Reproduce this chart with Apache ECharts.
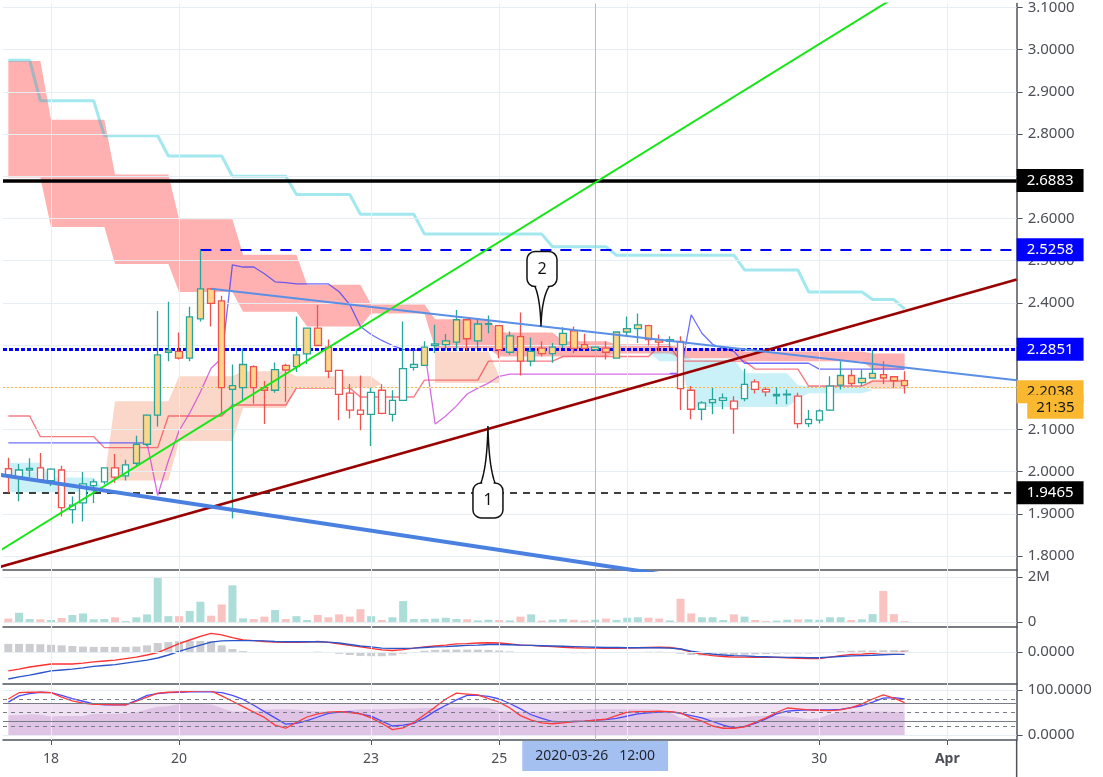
<!DOCTYPE html>
<html>
<head>
<meta charset="utf-8">
<script src="https://cdn.jsdelivr.net/npm/echarts@6.0.0/dist/echarts.min.js"></script>
<style>
html,body{margin:0;padding:0;background:#ffffff;}
#chart{width:1103px;height:777px;}
</style>
</head>
<body>
<div id="chart"></div>
<script>
// ================= DATA =================
const firstBarTime = '2020-03-17T08:00:00Z';
const barHours = 4;
const slotCount = 95;
const categories = [];
for (let i = 0; i < slotCount; i++) {
  const d = new Date(Date.parse(firstBarTime) + i * barHours * 3600000);
  categories.push(d.toISOString().slice(0, 16).replace('T', ' '));
}
const tickSlots = [4, 16, 34, 46, 58, 76, 88];
const tickLabels = ['18', '20', '23', '25', '', '30', 'Apr'];
const axisTickSlots = [4, 16, 34, 46, 55, 76, 88];
const crosshairSlot = 55;
const crosshairText = '2020-03-26   12:00';
const countdownText = '21:35';

const priceTicks = [1.8, 1.9, 2.0, 2.1, 2.2, 2.3, 2.4, 2.5, 2.6, 2.7, 2.8, 2.9, 3.0, 3.1];

const opens = [2.007,1.988,2.004,2.009,1.979,2.004,1.910,1.926,1.967,1.976,
2.009,1.990,2.020,2.065,2.134,2.283,2.285,2.269,2.362,2.433,
2.405,2.195,2.199,2.249,2.199,2.193,2.252,2.249,2.279,2.340,
2.295,2.240,2.186,2.146,2.136,2.193,2.136,2.169,2.247,2.252,
2.299,2.301,2.307,2.360,2.310,2.349,2.346,2.283,2.320,2.262,
2.293,2.280,2.301,2.334,2.301,2.289,2.293,2.269,2.331,2.339,
2.346,2.313,2.309,2.309,2.193,2.148,2.164,2.169,2.167,2.173,
2.213,2.195,2.180,2.182,2.179,2.114,2.122,2.146,2.205,2.228,
2.211,2.222,2.230,2.225,2.216];
const closes = [1.992,2.004,2.008,1.981,2.006,1.915,1.921,1.971,1.976,2.009,
1.987,2.016,2.065,2.134,2.277,2.288,2.269,2.367,2.433,2.399,
2.199,2.204,2.254,2.199,2.193,2.242,2.241,2.277,2.340,2.299,
2.238,2.183,2.146,2.136,2.188,2.138,2.169,2.244,2.254,2.295,
2.303,2.310,2.360,2.315,2.350,2.351,2.289,2.322,2.262,2.285,
2.280,2.295,2.328,2.292,2.292,2.295,2.283,2.331,2.339,2.348,
2.313,2.307,2.313,2.197,2.148,2.163,2.171,2.175,2.149,2.207,
2.195,2.189,2.183,2.184,2.114,2.124,2.144,2.203,2.228,2.209,
2.221,2.233,2.222,2.216,2.2038];
const lows = [1.950,1.930,1.987,1.978,1.966,1.894,1.877,1.882,1.926,1.970,
1.974,1.979,2.014,2.060,2.107,2.262,2.266,2.262,2.356,2.344,
2.136,1.889,2.169,2.161,2.113,2.187,2.166,2.236,2.255,2.297,
2.222,2.122,2.126,2.098,2.061,2.136,2.119,2.168,2.240,2.251,
2.281,2.287,2.287,2.287,2.293,2.328,2.269,2.277,2.228,2.250,
2.273,2.258,2.293,2.281,2.291,2.287,2.266,2.269,2.320,2.305,
2.299,2.285,2.293,2.146,2.124,2.122,2.136,2.148,2.090,2.167,
2.185,2.178,2.160,2.160,2.103,2.106,2.114,2.144,2.195,2.203,
2.203,2.222,2.208,2.199,2.185];
const highs = [2.033,2.018,2.032,2.044,2.008,2.014,1.941,1.999,1.982,2.010,
2.042,2.028,2.085,2.136,2.381,2.403,2.330,2.391,2.5258,2.435,
2.417,2.254,2.292,2.252,2.215,2.259,2.256,2.368,2.341,2.395,
2.313,2.241,2.208,2.228,2.199,2.207,2.193,2.356,2.287,2.309,
2.348,2.326,2.383,2.361,2.360,2.370,2.347,2.332,2.377,2.318,
2.309,2.305,2.342,2.344,2.327,2.296,2.309,2.332,2.368,2.375,
2.348,2.325,2.321,2.321,2.203,2.167,2.199,2.185,2.179,2.244,
2.219,2.200,2.200,2.195,2.187,2.146,2.148,2.226,2.262,2.242,
2.242,2.289,2.262,2.226,2.238];
const bodyFilled = [0,0,0,0,0,0,0,0,0,0,0,0,
1,1,1,1,1,1,1,1,1,1,1,1,1,1,1,1,1,1,1,
0,0,0,0,0,0,0,0,
1,0,
1,1,1,1,1,1,1,1,1,1,1,1,1,1,1,1,1,1,1,1,1,1,
0,0,0,0,0,0,0,0,0,0,0,0,0,0,0,
1,1,1,1,1,1,1];
const volumesM = [0.15,0.41,0.13,0.12,0.09,0.18,0.31,0.38,0.12,0.13,
0.21,0.04,0.21,0.34,1.97,0.26,0.26,0.49,0.90,0.28,
0.78,1.63,0.16,0.13,0.24,0.53,0.13,0.26,0.09,0.31,
0.21,0.34,0.24,0.57,0.26,0.09,0.21,0.93,0.13,0.13,
0.15,0.19,0.13,0.12,0.07,0.10,0.09,0.07,0.24,0.34,
0.06,0.10,0.13,0.10,0.07,0.10,0.15,0.09,0.19,0.21,
0.19,0.15,0.07,1.03,0.38,0.21,0.21,0.09,0.34,0.24,
0.09,0.04,0.06,0.10,0.12,0.12,0.10,0.21,0.21,0.09,
0.12,0.35,1.38,0.35,0.04];

// Ichimoku-style overlays (price per bar slot, null = not drawn)
const cyanBaseLine = [2.975,2.975,2.975,
2.879,2.879,2.879,2.879,2.879,2.879,
2.796,2.796,2.796,2.796,2.796,2.796,
2.748,2.748,2.748,2.748,2.748,2.748,
2.700,2.700,2.700,2.700,2.700,2.700,
2.657,2.657,2.657,2.657,2.657,2.657,
2.610,2.610,2.610,2.610,2.610,2.610,
2.563,2.563,2.563,2.563,2.563,2.563,2.563,2.563,2.563,2.563,2.563,2.563,
2.533,2.533,2.533,2.533,2.533,2.533,
2.513,2.513,2.513,2.513,2.513,2.513,2.513,2.513,2.513,2.513,2.513,2.513,
2.478,2.478,2.478,2.478,2.478,2.478,
2.426,2.426,2.426,2.426,2.426,2.426,
2.408,2.408,2.408,
2.386];
const tenkanLine = [2.132,2.132,2.132,
2.083,2.083,2.083,2.083,2.083,2.083,
2.057,2.057,2.057,2.057,2.057,2.057,
2.132,2.132,2.132,2.132,2.132,2.132,
2.158,2.158,2.158,2.158,2.158,2.158,
2.198,2.198,2.198,2.198,2.198,2.198,
2.177,2.177,2.177,2.177,2.177,2.177,
2.217,2.217,2.217,2.217,2.217,2.217,
2.262,2.262,2.262,2.262,2.262,2.262,2.262,
2.273,2.273,2.273,2.273,2.273,2.273,2.273,2.273,2.273,
2.297,2.297,
2.262,2.262,2.262,2.262,2.262,2.262,2.262,
2.243,2.243,2.243,2.243,2.243,
2.203,2.203,2.203,2.203,2.203,2.203,
2.2145,2.2145,2.2145,2.2145];
const kijunLine = [2.0685,2.0685,2.0685,2.0685,2.0685,2.0685,2.0685,2.0685,2.0685,2.0685,2.0685,2.0685,2.0685,2.0685,
null,null,null,null,null,null,
2.269,2.490,2.485,2.485,2.469,2.450,2.448,2.445,2.445,2.445,
2.445,2.4265,2.396,2.344,2.325,2.311,2.299,2.290,2.2875,2.290,
null,null,null,null,null,null,null,null,null,null,null,
null,null,null,null,null,null,null,null,null,null,null,
2.233,2.233,2.372,2.328,2.302,2.292,2.285,
2.257,2.257,2.257,2.257,2.257,2.257,2.257,
2.243,2.243,2.243,2.243,2.243,2.243,2.243,2.243,2.243];
const laggingLine = [null,null,null,null,null,null,null,null,null,null,null,null,null,
2.0685,1.9437,2.026,2.097,2.139,2.189,2.245,2.269,
null,null,null,null,null,null,null,null,null,
null,null,null,null,null,null,null,null,null,
2.290,2.113,2.132,2.156,2.184,2.198,2.210,2.226,
2.231,2.231,2.231,2.231,2.231,2.231,2.231,2.231,2.231,2.231,2.231,2.231,2.231,2.231,2.231,2.231,2.231,
null,null,null,null,null,null,null,null,null,null,null,
null,null,null,null,null,null,null,null,null,null];

const redCloudTop = [2.973,2.973,2.973,2.973,
2.834,2.834,2.834,2.834,2.834,2.834,
2.704,2.704,2.704,2.704,2.704,2.704,
2.598,2.598,2.598,2.598,2.598,2.598,
2.514,2.514,2.514,2.514,2.514,2.514,
2.443,2.443,2.443,2.443,2.443,2.443,
2.396,2.396,2.396,2.396,2.396,2.396,
2.361,2.361,2.361,2.361,2.361,2.361,
2.330,2.330,2.330,2.330,2.330,2.330,
2.309,2.309,2.309,2.309,2.309,
2.302,2.302,2.302,2.302,2.302,2.302,
2.292,2.292,2.292,2.292,2.292,2.292,
2.285,2.285,2.285,2.285,2.285,2.285,2.285,2.285,2.285,2.285,2.285,2.285,
2.280,2.280,2.280,2.280];
const redCloudBottom = [2.697,2.697,2.697,2.697,
2.580,2.580,2.580,2.580,2.580,2.580,
2.492,2.492,2.492,2.492,2.492,2.492,
2.426,2.426,2.426,2.426,2.426,2.426,
2.379,2.379,2.379,2.379,2.379,2.379,
2.344,2.344,2.344,2.344,2.344,2.344,
2.375,2.375,2.375,2.375,2.375,2.375,
2.292,2.292,2.292,2.292,2.292,2.292,
2.273,2.273,2.273,2.273,2.273,2.273,
2.273,2.273,2.273,2.273,2.273,
2.280,2.280,2.280,2.280,2.280,2.280,
2.269,2.269,2.269,2.269,2.269,2.269,
2.262,2.262,2.262,2.262,2.262,2.262,2.262,2.262,2.262,2.262,2.262,2.262,
2.243,2.243,2.243,2.243];
const peachCloudTop = [null,null,null,null,null,null,null,null,null,
1.979,2.167,2.167,2.167,2.167,2.167,2.167,
2.226,2.226,2.226,2.226,2.226,2.226,
2.238,2.238,2.238,2.238,2.238,
2.226,2.226,2.226,2.226,2.226,2.226,2.226,2.226,
2.207,
null,null,null,null,
2.285,2.285,2.285,2.285,2.285,2.285,2.226,
null,null,null,null,null,null,null,null,null,null,null,
null,null,null,null,null,null,null,null,null,null,null,
null,null,null,null,null,null,null,null,null,null,null,
2.203,2.219,2.219,2.219,2.219];
const peachCloudBottom = [null,null,null,null,null,null,null,null,null,
1.979,1.979,1.979,1.979,1.979,1.979,1.979,
2.073,2.073,2.073,2.073,2.073,2.073,
2.151,2.151,2.151,2.151,2.151,
2.198,2.198,2.198,2.198,2.198,2.198,2.198,2.198,
2.207,
null,null,null,null,
2.210,2.210,2.210,2.210,2.210,2.210,2.210,
null,null,null,null,null,null,null,null,null,null,null,
null,null,null,null,null,null,null,null,null,null,null,
null,null,null,null,null,null,null,null,null,null,null,
2.203,2.196,2.196,2.196,2.196];
const cyanCloudTop = [2.021,2.021,2.021,2.021,1.986,1.986,1.986,1.986,1.986,1.955,
null,null,null,null,null,null,null,null,null,null,
null,null,null,null,null,null,null,null,null,null,
null,null,null,null,null,null,null,null,null,null,
null,null,null,null,null,null,null,null,null,null,
null,null,null,null,null,null,null,null,null,null,
2.285,2.285,2.285,2.285,2.266,2.266,2.266,2.266,2.266,
2.233,2.233,2.233,2.233,2.233,2.205,
2.203,2.203,2.203,2.203,2.203,2.203,2.193,
null,null,null];
const cyanCloudBottom = [1.951,1.951,1.951,1.951,1.951,1.951,1.951,1.951,1.951,1.955,
null,null,null,null,null,null,null,null,null,null,
null,null,null,null,null,null,null,null,null,null,
null,null,null,null,null,null,null,null,null,null,
null,null,null,null,null,null,null,null,null,null,
null,null,null,null,null,null,null,null,null,null,
2.285,2.262,2.262,2.262,2.153,2.153,2.153,2.153,2.153,
2.153,2.153,2.153,2.153,2.153,2.172,
2.186,2.186,2.186,2.186,2.186,2.186,2.193,
null,null,null];

// Price levels and drawn trend lines ([bar slot, price])
const levelBlack = 2.6883, levelBlueDash = 2.5258, levelBlueDash2Start = 18;
const levelBlueDot = 2.2851, levelLast = 2.2038, levelBlackDash = 1.9465;
const trendGreen = [[-1, 1.8094], [83, 3.1229]];
const trendDarkRed = [[-1, 1.7727], [94.5, 2.4554]];
const trendBlueLower = [[-1, 1.9931], [62, 1.7538]];
const trendBlueUpper = [[19, 2.4333], [94.5, 2.2169]];
const calloutTips = [[49.92, 2.344, 1], [44.95, 2.1085, -1]];
const calloutTexts = ['2', '1'];

// MACD
const macdLine = [-0.063,-0.057,-0.050,-0.045,-0.040,-0.040,-0.040,-0.037,-0.033,-0.030,
-0.027,-0.022,-0.017,-0.010,-0.002,0.013,0.028,0.040,0.052,0.062,
0.057,0.048,0.040,0.038,0.035,0.033,0.032,0.032,0.033,0.035,
0.032,0.027,0.022,0.017,0.012,0.007,0.005,0.008,0.013,0.017,
0.020,0.023,0.027,0.028,0.030,0.031,0.030,0.027,0.023,0.022,
0.020,0.018,0.016,0.014,0.013,0.013,0.012,0.012,0.013,0.014,
0.015,0.016,0.015,0.010,0.000,-0.007,-0.012,-0.015,-0.017,-0.017,
-0.018,-0.018,-0.018,-0.019,-0.021,-0.022,-0.022,-0.017,-0.012,-0.008,
-0.007,-0.004,-0.002,-0.002,-0.001];
const macdSignal = [-0.090,-0.083,-0.077,-0.070,-0.063,-0.060,-0.057,-0.053,-0.048,-0.045,
-0.042,-0.037,-0.032,-0.027,-0.020,-0.010,0.002,0.013,0.023,0.033,
0.037,0.038,0.038,0.038,0.037,0.035,0.034,0.034,0.034,0.034,
0.033,0.030,0.025,0.020,0.017,0.013,0.012,0.012,0.013,0.015,
0.017,0.018,0.020,0.022,0.023,0.025,0.025,0.024,0.023,0.022,
0.021,0.020,0.019,0.018,0.017,0.016,0.015,0.015,0.014,0.014,
0.014,0.014,0.013,0.010,0.003,-0.002,-0.007,-0.010,-0.012,-0.013,
-0.015,-0.016,-0.017,-0.018,-0.018,-0.019,-0.019,-0.017,-0.015,-0.013,
-0.012,-0.011,-0.009,-0.008,-0.008];
const macdHist = [0.027,0.027,0.027,0.026,0.024,0.022,0.020,0.018,0.017,0.017,
0.017,0.017,0.018,0.022,0.030,0.033,0.036,0.037,0.037,0.036,
0.022,0.010,0.003,-0.002,-0.002,-0.002,-0.002,-0.002,0.000,0.001,
-0.002,-0.006,-0.010,-0.013,-0.014,-0.014,-0.012,-0.006,-0.002,0.004,
0.007,0.008,0.008,0.008,0.008,0.007,0.005,0.002,0.000,-0.001,
-0.002,-0.003,-0.003,-0.004,-0.004,-0.003,-0.003,-0.003,-0.001,0.000,
0.001,0.001,-0.002,-0.006,-0.010,-0.012,-0.012,-0.011,-0.010,-0.009,
-0.008,-0.007,-0.006,-0.005,-0.005,-0.005,-0.004,0.000,0.003,0.004,
0.005,0.005,0.006,0.006,0.006];

// Stochastic RSI + RSI
const stochK = [73,87,92,95,94,88,81,75,69,67,
67,67,77,88,92,94,95,96,96,96,
94,88,79,66,52,38,24,26,32,40,
48,51,52,47,42,31,20,22,26,38,
53,66,78,88,88,86,80,70,58,45,
37,30,29,30,31,33,34,37,42,47,
49,51,52,48,43,38,30,22,16,19,
26,36,47,53,55,56,56,56,57,61,
65,73,82,83,80];
const stochD = [80,94,95,95,94,84,76,71,68,68,
67,67,75,84,93,95,96,97,98,98,
87,75,63,51,39,22,15,28,40,47,
51,52,50,47,38,26,12,16,28,45,
62,80,93,91,89,81,73,60,43,33,
27,25,27,30,31,33,35,43,51,52,
52,53,52,49,38,31,20,15,15,18,
28,38,50,60,58,56,55,54,56,61,
69,80,89,82,72];
const rsiValues = [44,44,46,45,41,42,42,42,47,47,
47,48,50,57,63,64,69,69,69,68,
60,52,52,52,56,57,57,56,54,52,
52,52,55,57,57,57,58,59,59,60,
60,61,61,61,61,60,53,52,52,52,
52,53,54,56,56,57,57,57,57,57,
57,56,50,37,38,39,39,39,39,40,
42,42,42,41,39,35,38,46,51,52,
52,52,52,51,50];
const stochDashedLevels = [80, 50, 20];
const stochSolidLevels = [70, 30];
const stochBand = [0, 70];

// ================= STYLE =================
const FONT = 'Noto Sans';
const C_UP = '#26a69a', C_DN = '#ef5350', FILL = '#fdd68a';
const GRID_C = '#e6edf3', CROSS_C = '#a9bdea', AXIS_C = '#50535e', LABEL_C = '#4d4f57';
const GL = 3, GW = 1013.65;

const chart = echarts.init(document.getElementById('chart'));

function catAxis(gi, extra) {
  return Object.assign({
    type: 'category', gridIndex: gi, data: categories, boundaryGap: true,
    axisLine: {show: true, onZero: false, lineStyle: {color: AXIS_C, width: 1.5}},
    axisTick: {show: false}, axisLabel: {show: false}, splitLine: {show: false}
  }, extra || {});
}
function valAxis(gi, min, max, ticks, fmt) {
  return {
    type: 'value', gridIndex: gi, position: 'right', min: min, max: max,
    axisLine: {show: true, onZero: false, lineStyle: {color: AXIS_C, width: 1.5}},
    axisTick: {show: true, length: 6, customValues: ticks, lineStyle: {color: AXIS_C}},
    axisLabel: {show: true, customValues: ticks, formatter: fmt, margin: 11, color: LABEL_C, fontSize: 15, fontFamily: FONT},
    splitLine: {show: false}
  };
}
function paneGrid(xi, yi, yVals, extraData, extraOpts) {
  const data = yVals.map(v => ({yAxis: v}))
    .concat(tickSlots.map(s => ({xAxis: s})))
    .concat([{xAxis: crosshairSlot, lineStyle: {color: CROSS_C, width: 1, type: 'solid'}}])
    .concat(extraData || []);
  return Object.assign({
    type: 'line', xAxisIndex: xi, yAxisIndex: yi, data: [], z: 0, silent: true,
    markLine: {silent: true, symbol: ['none', 'none'], animation: false, label: {show: false},
      lineStyle: {color: GRID_C, width: 1, type: 'solid'}, data: data}
  }, extraOpts || {});
}
function bandSeries(tops, bots, color, z) {
  return {
    type: 'custom', xAxisIndex: 0, yAxisIndex: 0, z: z, silent: true, clip: true, data: [[0, 0]],
    renderItem: function (params, api) {
      const children = [];
      let run = [];
      const flush = function () {
        if (run.length > 1) {
          const pts = [];
          run.forEach(i => pts.push(api.coord([i, tops[i]])));
          for (let j = run.length - 1; j >= 0; j--) pts.push(api.coord([run[j], bots[run[j]]]));
          children.push({type: 'polygon', shape: {points: pts}, style: {fill: color}});
        }
        run = [];
      };
      for (let i = 0; i < tops.length; i++) {
        if (tops[i] == null || bots[i] == null) flush(); else run.push(i);
      }
      flush();
      return {type: 'group', children: children};
    }
  };
}
function lineSeries(xi, yi, data, color, width, z, extra) {
  return Object.assign({
    type: 'line', xAxisIndex: xi, yAxisIndex: yi, data: data, showSymbol: false, symbol: 'none',
    connectNulls: false, silent: true, z: z, lineStyle: {color: color, width: width}
  }, extra || {});
}
function boxLabel(text, bg, fg) {
  return {show: true, position: 'end', distance: 0, formatter: text, backgroundColor: bg, color: fg,
    fontSize: 15, lineHeight: 15, padding: [4, 10, 4, 10], fontFamily: FONT};
}

const candleData = opens.map((o, i) => ({
  value: [o, closes[i], lows[i], highs[i]],
  itemStyle: {color: bodyFilled[i] ? FILL : '#ffffff', color0: bodyFilled[i] ? FILL : '#ffffff'}
}));
const volumeData = volumesM.map((v, i) => ({
  value: v, itemStyle: {color: closes[i] >= opens[i] ? 'rgba(38,166,154,0.38)' : 'rgba(239,83,80,0.35)'}
}));

const option = {
  animation: false,
  backgroundColor: '#ffffff',
  textStyle: {fontFamily: FONT},
  graphic: [{
    type: 'line', silent: true, z: 100,
    shape: {x1: GL + GW, y1: 740, x2: GL + GW, y2: 777},
    style: {stroke: AXIS_C, lineWidth: 1.5}
  }],
  grid: [
    {left: GL, width: GW, top: 0, height: 570},
    {left: GL, width: GW, top: 570, height: 57},
    {left: GL, width: GW, top: 627, height: 57},
    {left: GL, width: GW, top: 684, height: 56}
  ],
  xAxis: [
    catAxis(0),
    {type: 'value', gridIndex: 0, min: -0.5, max: 94.5, show: false, axisLine: {show: false, onZero: false}},
    catAxis(1),
    catAxis(2),
    catAxis(3, {
      axisTick: {show: true, alignWithLabel: true, length: 5, lineStyle: {color: AXIS_C},
        interval: (i) => axisTickSlots.indexOf(i) >= 0},
      axisLabel: {show: true, interval: (i) => tickSlots.indexOf(i) >= 0, margin: 12, color: LABEL_C,
        fontSize: 14, fontFamily: FONT,
        formatter: (v, i) => {
          const t = tickLabels[tickSlots.indexOf(i)] || '';
          return t === 'Apr' ? '{b|Apr}' : t;
        },
        rich: {b: {fontWeight: 'bold', fontSize: 14, color: LABEL_C, fontFamily: FONT}}}
    })
  ],
  yAxis: [
    valAxis(0, 1.76703, 3.10942, priceTicks, v => v.toFixed(4)),
    valAxis(1, -0.222, 2.311, [0, 2], v => (v === 0 ? '0' : v + 'M')),
    valAxis(2, -0.1067, 0.0833, [0], v => v.toFixed(4)),
    valAxis(3, -11.11, 113.33, [0, 100], v => v.toFixed(4))
  ],
  series: [
    // ---- main pane ----
    paneGrid(0, 0, priceTicks),
    bandSeries(redCloudTop, redCloudBottom, 'rgba(255,82,82,0.45)', 1),
    bandSeries(peachCloudTop, peachCloudBottom, 'rgba(240,140,100,0.35)', 1),
    bandSeries(cyanCloudTop, cyanCloudBottom, 'rgba(80,210,230,0.3)', 1),
    lineSeries(0, 0, cyanBaseLine, 'rgba(0,188,212,0.36)', 3, 2),
    lineSeries(0, 0, tenkanLine, 'rgba(242,54,69,0.65)', 1.4, 2),
    lineSeries(0, 0, kijunLine, 'rgba(50,50,255,0.7)', 1.3, 2),
    lineSeries(0, 0, laggingLine, 'rgba(200,60,215,0.75)', 1.3, 2),
    {
      type: 'candlestick', xAxisIndex: 0, yAxisIndex: 0, data: candleData, barWidth: 7, z: 5, silent: true,
      itemStyle: {color: '#ffffff', color0: '#ffffff', borderColor: C_UP, borderColor0: C_DN, borderWidth: 1.3}
    },
    lineSeries(1, 0, [], '#000', 1, 6, {
      markLine: {
        silent: true, symbol: ['none', 'none'], animation: false,
        data: [
          {yAxis: levelBlack, lineStyle: {color: '#000000', width: 3.5, type: 'solid'},
            label: boxLabel(levelBlack.toFixed(4), '#000000', '#ffffff')},
          [{coord: [levelBlueDash2Start, levelBlueDash], lineStyle: {color: '#0000ff', width: 2, type: [11, 9]},
            label: boxLabel(levelBlueDash.toFixed(4), '#0000ff', '#ffffff')},
           {coord: [94.5, levelBlueDash]}],
          {yAxis: levelBlueDot, lineStyle: {color: '#0000ff', width: 3, type: [4, 2]},
            label: boxLabel(levelBlueDot.toFixed(4), '#0000ff', '#ffffff')},
          {yAxis: levelLast, lineStyle: {color: '#f5b93a', width: 1, type: [2, 2]},
            label: {show: true, position: 'end', distance: 0, offset: [0, 12],
              formatter: '{a|' + levelLast.toFixed(4) + '}\n{b|' + countdownText + '}',
              rich: {
                a: {backgroundColor: '#f9b830', color: '#131722', fontSize: 15, lineHeight: 15, padding: [4, 10, 4, 10], fontFamily: FONT},
                b: {backgroundColor: '#f9b830', color: '#131722', fontSize: 15, lineHeight: 15, padding: [5, 9, 4, 9], align: 'right', fontFamily: FONT}
              }}},
          {yAxis: levelBlackDash, lineStyle: {color: '#000000', width: 1.5, type: [7, 6]},
            label: boxLabel(levelBlackDash.toFixed(4), '#000000', '#ffffff')}
        ]
      }
    }),
    lineSeries(1, 0, trendGreen, '#17e617', 2, 7, {clip: true}),
    lineSeries(1, 0, trendDarkRed, '#990000', 2.5, 7, {clip: true}),
    lineSeries(1, 0, trendBlueLower, '#4a80e0', 4, 7, {clip: true}),
    lineSeries(1, 0, trendBlueUpper, '#5a8fe6', 2, 7, {clip: true}),
    {
      type: 'custom', xAxisIndex: 1, yAxisIndex: 0, z: 10, silent: true, clip: false, data: calloutTips,
      renderItem: function (params, api) {
        const i = params.dataIndex;
        const p = api.coord([api.value(0), api.value(1)]);
        const dir = api.value(2);
        const tx = p[0], ty = p[1];
        const bw = 30, bh = 35, tailLen = dir > 0 ? 40 : 57, hb = 7;
        const baseY = ty - dir * tailLen;
        const boxTop = dir > 0 ? baseY - bh : baseY;
        const cx = tx + (dir > 0 ? 1 : 0);
        const cy = baseY + (ty - baseY) * 0.3;
        const pts = [];
        const n = 12;
        for (let k = 0; k <= n; k++) {
          const t = k / n, a = (1 - t) * (1 - t), b = 2 * (1 - t) * t, c = t * t;
          pts.push([a * (cx - hb) + b * (tx - 0.8) + c * tx, a * baseY + b * cy + c * ty]);
        }
        for (let k = n; k >= 0; k--) {
          const t = k / n, a = (1 - t) * (1 - t), b = 2 * (1 - t) * t, c = t * t;
          pts.push([a * (cx + hb) + b * (tx + 0.8) + c * tx, a * baseY + b * cy + c * ty]);
        }
        return {type: 'group', children: [
          {type: 'polygon', shape: {points: pts}, style: {fill: '#ffffff', stroke: '#111111', lineWidth: 1.5}},
          {type: 'rect', shape: {x: cx - bw / 2, y: boxTop, width: bw, height: bh, r: 8},
            style: {fill: '#ffffff', stroke: '#111111', lineWidth: 1.5}},
          {type: 'rect', shape: {x: cx - hb + 1.3, y: baseY - 1.6, width: 2 * hb - 2.6, height: 3.2}, style: {fill: '#ffffff'}},
          {type: 'text', style: {text: calloutTexts[i], x: cx, y: boxTop + bh / 2, align: 'center', verticalAlign: 'middle',
            fontSize: 16, fill: '#111111', fontFamily: FONT}}
        ]};
      }
    },
    // ---- volume pane ----
    paneGrid(2, 1, [0, 2]),
    {type: 'bar', xAxisIndex: 2, yAxisIndex: 1, data: volumeData, barWidth: 8, z: 2, silent: true},
    // ---- MACD pane ----
    paneGrid(3, 2, [0]),
    {type: 'bar', xAxisIndex: 3, yAxisIndex: 2, data: macdHist, barWidth: 8, z: 2, silent: true,
      itemStyle: {color: 'rgba(120,123,134,0.38)'}},
    lineSeries(3, 2, macdLine, '#ff3030', 1.4, 3),
    lineSeries(3, 2, macdSignal, '#2a55c9', 1.4, 3),
    // ---- Stoch RSI pane ----
    paneGrid(4, 3, [0, 100], [
      {xAxis: crosshairSlot, lineStyle: {color: CROSS_C, width: 1, type: 'solid'},
        label: {show: true, position: 'start', distance: 1, formatter: crosshairText, backgroundColor: '#a4c0f0',
          color: '#1e222d', fontSize: 14, lineHeight: 14, padding: [8, 13, 8, 13], fontFamily: FONT}}
    ], {
      markArea: {silent: true, itemStyle: {color: 'rgba(150,50,165,0.14)'},
        data: [[{xAxis: 0, yAxis: stochBand[0]}, {xAxis: 84, yAxis: stochBand[1]}]]}
    }),
    lineSeries(4, 3, rsiValues, 'rgba(150,50,165,0.0)', 0, 2, {
      areaStyle: {color: 'rgba(150,50,165,0.24)', origin: 'auto'}
    }),
    lineSeries(4, 3, [], '#000', 1, 3, {
      markLine: {silent: true, symbol: ['none', 'none'], animation: false, label: {show: false},
        data: stochDashedLevels.map(v => ({yAxis: v, lineStyle: {color: '#787b86', width: 1, type: [4, 4]}}))
          .concat(stochSolidLevels.map(v => ({yAxis: v, lineStyle: {color: '#787b86', width: 1.2, type: 'solid'}})))}
    }),
    lineSeries(4, 3, stochK, '#4b4bff', 1.3, 4),
    lineSeries(4, 3, stochD, '#ff3a3a', 1.3, 4)
  ]
};
chart.setOption(option);
</script>
</body>
</html>
